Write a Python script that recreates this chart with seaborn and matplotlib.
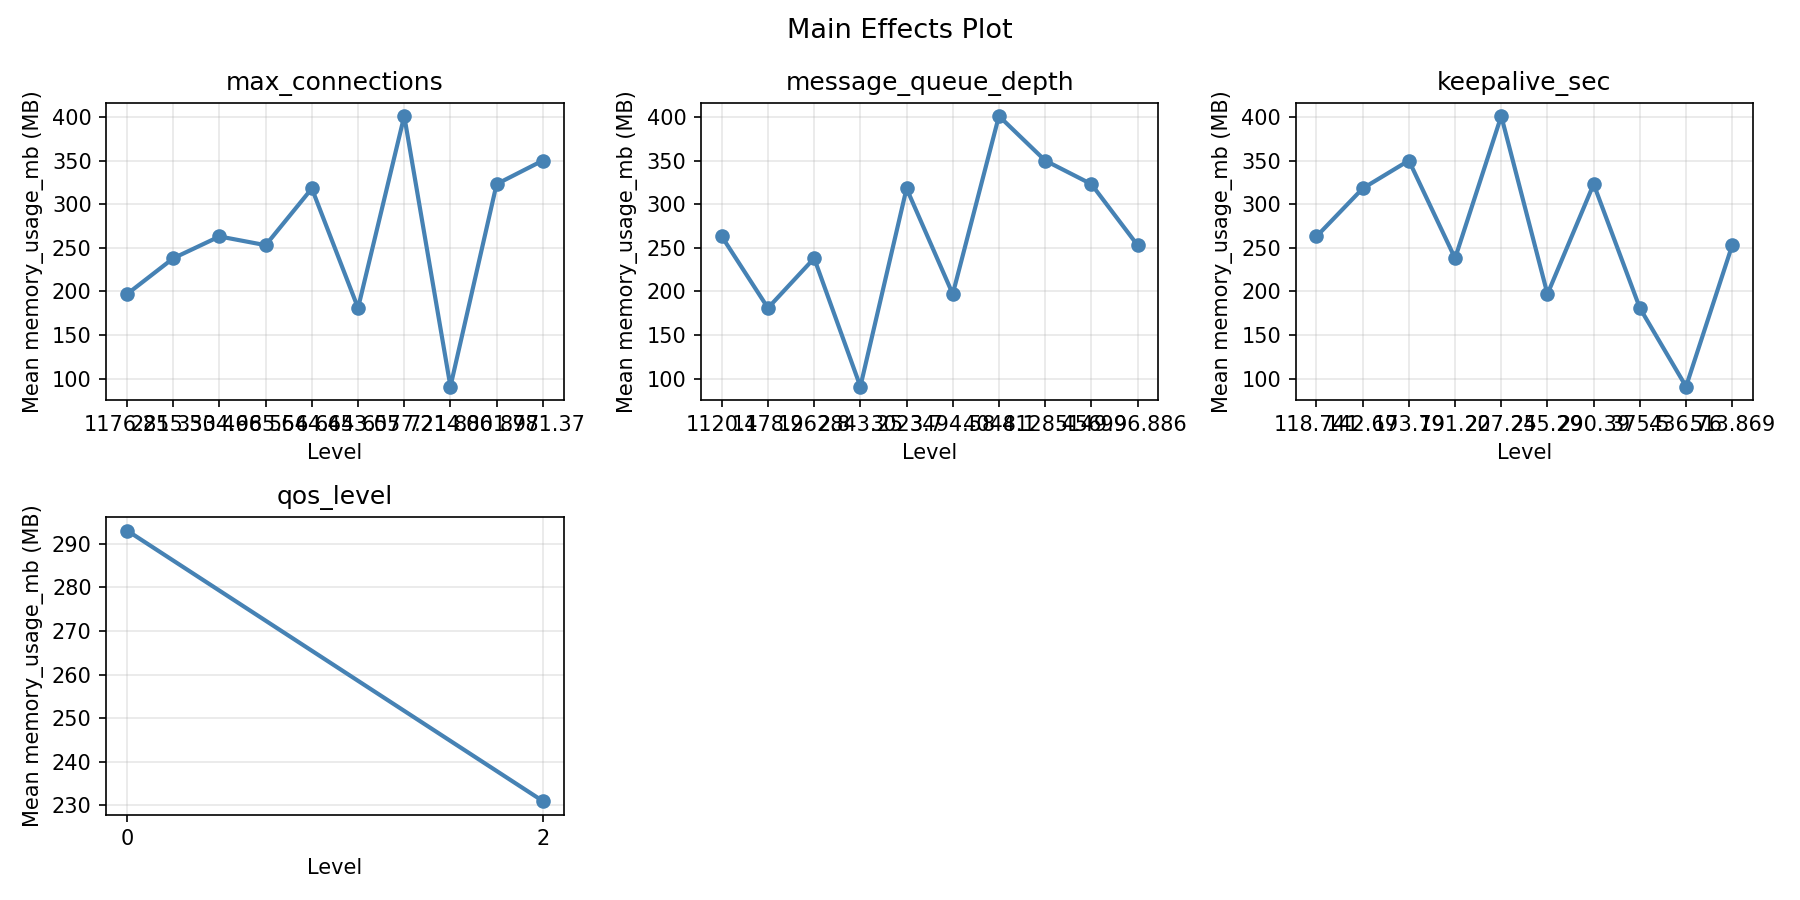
import matplotlib
matplotlib.use("Agg")
import matplotlib.pyplot as plt
import seaborn as sns
import pandas as pd

# === data ===
factors = ["max_connections", "message_queue_depth", "keepalive_sec", "qos_level"]

max_conn_levels = ["1176.25", "2815.33", "3504.98", "4665.56", "5644.64",
                   "6453.05", "6577.21", "7214.80", "8061.97", "8781.37"]
max_conn_means = [197, 238, 263, 253, 318, 181, 401, 91, 323, 350]

queue_levels = ["1120.1", "1478.2", "1962.8", "2843.25", "3023.7",
                "3494.58", "4048.1", "4128.45", "5149.9", "6996.886"]
queue_means = [263, 181, 238, 91, 318, 197, 401, 350, 323, 253]

keepalive_levels = ["118.741", "142.69", "173.79", "191.22", "207.25",
                    "245.29", "290.39", "375.5", "436.76", "513.869"]
keepalive_means = [263, 318, 350, 238, 401, 197, 323, 181, 91, 253]

qos_levels = ["0", "2"]
qos_means = [293, 231]

levels = [max_conn_levels, queue_levels, keepalive_levels, qos_levels]
means = [max_conn_means, queue_means, keepalive_means, qos_means]

# === plot ===
fig, axes = plt.subplots(2, 3, figsize=(12, 6), dpi=150)
axes = axes.flatten()

for ax, name, lv, mv in zip(axes, factors, levels, means):
    df = pd.DataFrame({"pos": range(len(lv)), "mean": mv})
    sns.lineplot(data=df, x="pos", y="mean", ax=ax, color="steelblue",
                 marker="o", markersize=7, markeredgewidth=0, linewidth=2)
    ax.set_xticks(range(len(lv)))
    ax.set_xticklabels(lv)
    ax.set_title(name, fontsize=12)
    ax.set_xlabel("Level")
    ax.set_ylabel("Mean memory_usage_mb (MB)")
    ax.grid(True, alpha=0.3)

for ax in axes[len(factors):]:
    ax.axis("off")

fig.suptitle("Main Effects Plot", fontsize=13)
plt.tight_layout()
plt.savefig("out.png", dpi=150)
plt.close()
